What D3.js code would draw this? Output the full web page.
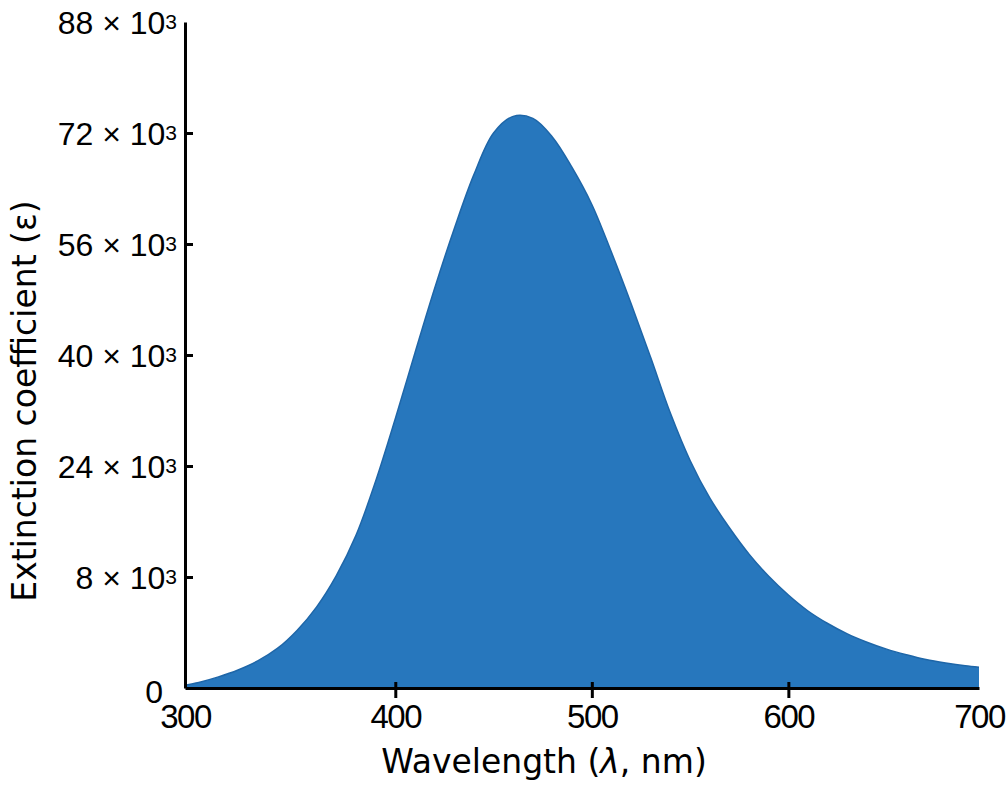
<!DOCTYPE html>
<html>
<head>
<meta charset="utf-8">
<script src="https://cdn.jsdelivr.net/npm/d3@7"></script>
<style>
  html, body { margin: 0; padding: 0; background: #fff; }
  svg { display: block; }
</style>
</head>
<body>
<svg id="chart" width="1006" height="788"></svg>
<script>
// absorption band
var wavelength = [293, 300, 310, 320, 330, 340, 350, 360, 370, 380, 390, 400, 410, 420, 430, 440, 450, 460,
                  470, 480, 490, 500, 510, 520, 530, 540, 550, 560, 570, 580, 590, 600, 610, 620, 630, 640,
                  650, 660, 670, 680, 690, 697];
var epsilon = [-7600, -7200, -6400, -5400, -4100, -2300, 300, 3700, 8200, 14000, 21800, 30800, 40300, 49600, 58200, 66000, 72000, 74400,
               74100, 71400, 67000, 61700, 54800, 47400, 39600, 31600, 24800, 19400, 15100, 11300, 8100, 5400, 3100, 1300, -200, -1400,
               -2400, -3200, -3900, -4400, -4800, -5000];

// ticks; the first and last are end labels without a tick mark
var xTickValues = [293, 400, 500, 600, 697];
var xTickLabels = ['300', '400', '500', '600', '700'];
var yTickValues = [-8000, 8000, 24000, 40000, 56000, 72000, 88000];
var yTickLabels = ['0', '8', '24', '40', '56', '72', '88'];

var X_LEFT = 185, X_RIGHT = 979, Y_TOP = 22, Y_BOTTOM = 688;
var FILL = '#2777bd';
var TICK_FONT = '"Liberation Sans", Arial, sans-serif';
var TITLE_FONT = '"DejaVu Sans", Verdana, sans-serif';

var svg = d3.select('#chart');

var x = d3.scaleLinear()
    .domain([xTickValues[0], xTickValues[xTickValues.length - 1]])
    .range([X_LEFT, X_RIGHT]);
var y = d3.scaleLinear()
    .domain([yTickValues[0], yTickValues[yTickValues.length - 1]])
    .range([Y_BOTTOM, Y_TOP]);

var data = wavelength.map((w, i) => ({ w: w, e: epsilon[i] }));

var area = d3.area()
    .x((d) => x(d.w))
    .y0(y(y.domain()[0]))
    .y1((d) => y(d.e))
    .curve(d3.curveCatmullRom.alpha(0.5));

var line = d3.line()
    .x((d) => x(d.w))
    .y((d) => y(d.e))
    .curve(d3.curveCatmullRom.alpha(0.5));

svg.append('path')
    .datum(data)
    .attr('d', area)
    .attr('fill', FILL);

svg.append('path')
    .datum(data)
    .attr('d', line)
    .attr('fill', 'none')
    .attr('stroke', '#1e66a8')
    .attr('stroke-width', 1.5);

// x axis
var xAxis = svg.append('g')
    .attr('transform', 'translate(0,' + Y_BOTTOM + ')')
    .call(d3.axisBottom(x)
        .tickValues(xTickValues)
        .tickFormat((d, i) => xTickLabels[i])
        .tickSizeOuter(0));

xAxis.select('.domain').attr('stroke', '#000').attr('stroke-width', 3);
xAxis.selectAll('.tick line')
    .attr('stroke', '#000')
    .attr('stroke-width', 3)
    .attr('y1', -6)
    .attr('y2', 10)
    .attr('display', (d, i) => (i === 0 || i === xTickValues.length - 1) ? 'none' : null);
xAxis.selectAll('.tick text')
    .attr('y', 40)
    .attr('dy', 0)
    .attr('fill', '#000')
    .style('font-family', TICK_FONT)
    .style('font-size', '33px')
    .style('letter-spacing', '-1.5px');

// y axis
var yAxis = svg.append('g')
    .attr('transform', 'translate(' + X_LEFT + ',0)')
    .call(d3.axisLeft(y)
        .tickValues(yTickValues)
        .tickFormat('')
        .tickSizeOuter(0));

yAxis.select('.domain').attr('stroke', '#000').attr('stroke-width', 3);
yAxis.selectAll('.tick line')
    .attr('stroke', '#000')
    .attr('stroke-width', 3)
    .attr('x1', 0)
    .attr('x2', 8)
    .attr('display', (d, i) => (i === 0 || i === yTickValues.length - 1) ? 'none' : null);

yAxis.selectAll('.tick text').each(function (d, i) {
    var t = d3.select(this)
        .text(null)
        .attr('fill', '#000')
        .attr('text-anchor', 'end')
        .style('font-family', TICK_FONT)
        .style('font-size', '32px');
    var lab = yTickLabels[i];
    if (lab === '0') {
        t.attr('x', -22).attr('dy', '0.45em').text(lab);
        return;
    }
    t.attr('x', -8).attr('dy', '0.35em');
    t.append('tspan').text(lab + ' \u00d7 10');
    t.append('tspan')
        .attr('dy', '-5')
        .style('font-size', '21px')
        .text('3');
});

// axis titles
var xTitle = svg.append('text')
    .attr('x', 544)
    .attr('y', 773)
    .attr('text-anchor', 'middle')
    .style('font-family', TITLE_FONT)
    .style('font-size', '33px');
xTitle.append('tspan').text('Wavelength (');
xTitle.append('tspan').style('font-style', 'italic').text('\u03bb');
xTitle.append('tspan').text(', nm)');

svg.append('text')
    .attr('transform', 'translate(36,401)rotate(-90)')
    .attr('text-anchor', 'middle')
    .style('font-family', TITLE_FONT)
    .style('font-size', '33px')
    .text('Extinction coefficient (\u03b5)');
</script>
</body>
</html>
